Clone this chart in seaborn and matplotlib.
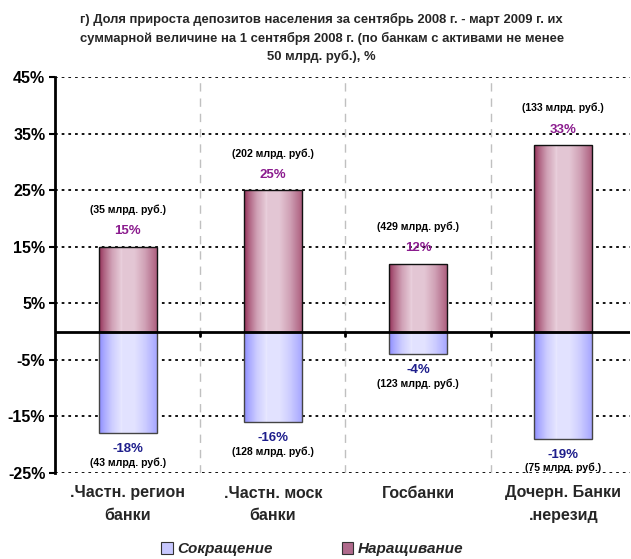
import numpy as np
import pandas as pd
import matplotlib
matplotlib.use("Agg")
import matplotlib.pyplot as plt
from matplotlib.colors import to_rgb
from matplotlib.patches import Patch
import seaborn as sns

# ---- data ----
categories = [".Частн. регион\nбанки", ".Частн. моск\nбанки", "Госбанки", "Дочерн. Банки\n.нерезид"]
growth = [15, 25, 12, 33]
decline = [-18, -16, -4, -19]
growth_amount = ["(35 млрд. руб.)", "(202 млрд. руб.)", "(429 млрд. руб.)", "(133 млрд. руб.)"]
decline_amount = ["(43 млрд. руб.)", "(128 млрд. руб.)", "(123 млрд. руб.)", "(75 млрд. руб.)"]
series_names = ["Сокращение", "Наращивание"]
y_ticks = [-25, -15, -5, 5, 15, 25, 35, 45]
title = ("г) Доля прироста депозитов населения за сентябрь 2008 г. - март 2009 г. их\n"
         "суммарной величине на 1 сентября 2008 г. (по банкам с активами не менее\n"
         "50 млрд. руб.), %")

sns.set_style("white")
plt.rcParams["font.family"] = ["Liberation Sans", "DejaVu Sans"]

df = pd.DataFrame({
    "cat": categories * 2,
    "value": decline + growth,
    "series": [series_names[0]] * 4 + [series_names[1]] * 4,
})

W, H = 631, 559
fig = plt.figure(figsize=(W / 100, H / 100), dpi=100)
ax = fig.add_axes([55 / W, 1 - 473 / H, (630 - 55) / W, (473 - 77) / H])

sns.barplot(data=df, x="cat", y="value", hue="series", order=categories,
            hue_order=series_names, dodge=False, width=0.4, legend=False,
            palette=["#C4C4FF", "#B9759A"], ax=ax)

ax.set_xlim(-0.5, 3.46)
ax.set_ylim(-25, 45)

# gradient fill for every bar
grad_t = [0, 0.08, 0.22, 0.36, 0.38, 0.40, 0.6, 0.78, 0.93, 1]
grad_f = [0, 0.3, 0.7, 0.93, 1.0, 0.93, 0.93, 0.7, 0.4, 0.25]
shades = {
    series_names[0]: ("#8C8CFF", "#E9E9FF", "#444444"),
    series_names[1]: ("#943058", "#EAD2DE", "#111111"),
}
t = np.linspace(0, 1, 200)
f = np.interp(t, grad_t, grad_f)
for patch in ax.patches:
    h = patch.get_height()
    if h == 0:
        continue
    key = series_names[1] if h > 0 else series_names[0]
    dark, light, edge = shades[key]
    d, l = np.array(to_rgb(dark)), np.array(to_rgb(light))
    img = d[None, :] * (1 - f[:, None]) + l[None, :] * f[:, None]
    x0, w, y0 = patch.get_x(), patch.get_width(), patch.get_y()
    im = ax.imshow(img[None, :, :], extent=(x0, x0 + w, y0, y0 + h),
                   aspect="auto", origin="lower", zorder=2, interpolation="bilinear")
    im.set_clip_path(patch)
    patch.set_facecolor("none")
    patch.set_edgecolor(edge)
    patch.set_linewidth(1.0)
    patch.set_zorder(3)

# value and amount labels
pos_pct_color = "#8B1C8E"
neg_pct_color = "#1E1E8C"
for i in range(len(categories)):
    ax.annotate(f"{growth[i]}%", (i, growth[i]), xytext=(0, 11), textcoords="offset points",
                ha="center", va="center", fontsize=9.5, fontweight="bold", color=pos_pct_color, zorder=6)
    ax.annotate(growth_amount[i], (i, growth[i]), xytext=(0, 26.5), textcoords="offset points",
                ha="center", va="center", fontsize=7.6, fontweight="bold", color="black", zorder=6)
    ax.annotate(f"{decline[i]}%", (i, decline[i]), xytext=(0, -11.5), textcoords="offset points",
                ha="center", va="center", fontsize=9.5, fontweight="bold", color=neg_pct_color, zorder=6)
    ax.annotate(decline_amount[i], (i, decline[i]), xytext=(0, -21), textcoords="offset points",
                ha="center", va="center", fontsize=7.6, fontweight="bold", color="black", zorder=6)

# grid, zero line, separators
ax.set_yticks(y_ticks)
ax.set_yticklabels([f"{v}%" for v in y_ticks], fontsize=11.5, fontweight="bold")
ax.yaxis.grid(True, color="black", linestyle=(0, (1.5, 2.2)), linewidth=1.3)
ax.set_axisbelow(True)
ax.axhline(0, color="black", linewidth=2, zorder=5)
for b in [0.5, 1.5, 2.5]:
    ax.axvline(b, color="#C0C0C0", linestyle=(0, (6, 5)), linewidth=1, zorder=0.6)
    ax.plot([b, b], [0, -0.8], color="black", linewidth=2, zorder=5)

for s in ["top", "right", "bottom"]:
    ax.spines[s].set_visible(False)
ax.spines["left"].set_color("black")
ax.spines["left"].set_linewidth(2)
ax.tick_params(axis="y", left=True, length=4, width=1.5, pad=3, colors="black")
ax.tick_params(axis="x", length=0, pad=9)
ax.set_xticks(range(len(categories)))
ax.set_xticklabels(categories, fontsize=11.5, fontweight="bold", linespacing=1.6)
ax.set_xlabel("")
ax.set_ylabel("")

fig.text(0.51, 1 - 38 / H, title, ha="center", va="center", fontsize=9.4,
         fontweight="bold", linespacing=1.55)

handles = [Patch(facecolor="#C8C8FF", edgecolor="#333333", linewidth=0.8),
           Patch(facecolor="#B06A8C", edgecolor="#333333", linewidth=0.8)]
fig.legend(handles, series_names, loc="center", bbox_to_anchor=(0.495, 1 - 549 / H),
           ncol=2, frameon=False, handlelength=0.75, handleheight=0.85, handletextpad=0.3,
           columnspacing=4.5, prop={"size": 11, "weight": "bold", "style": "italic"})

fig.savefig("out.png", dpi=100)
